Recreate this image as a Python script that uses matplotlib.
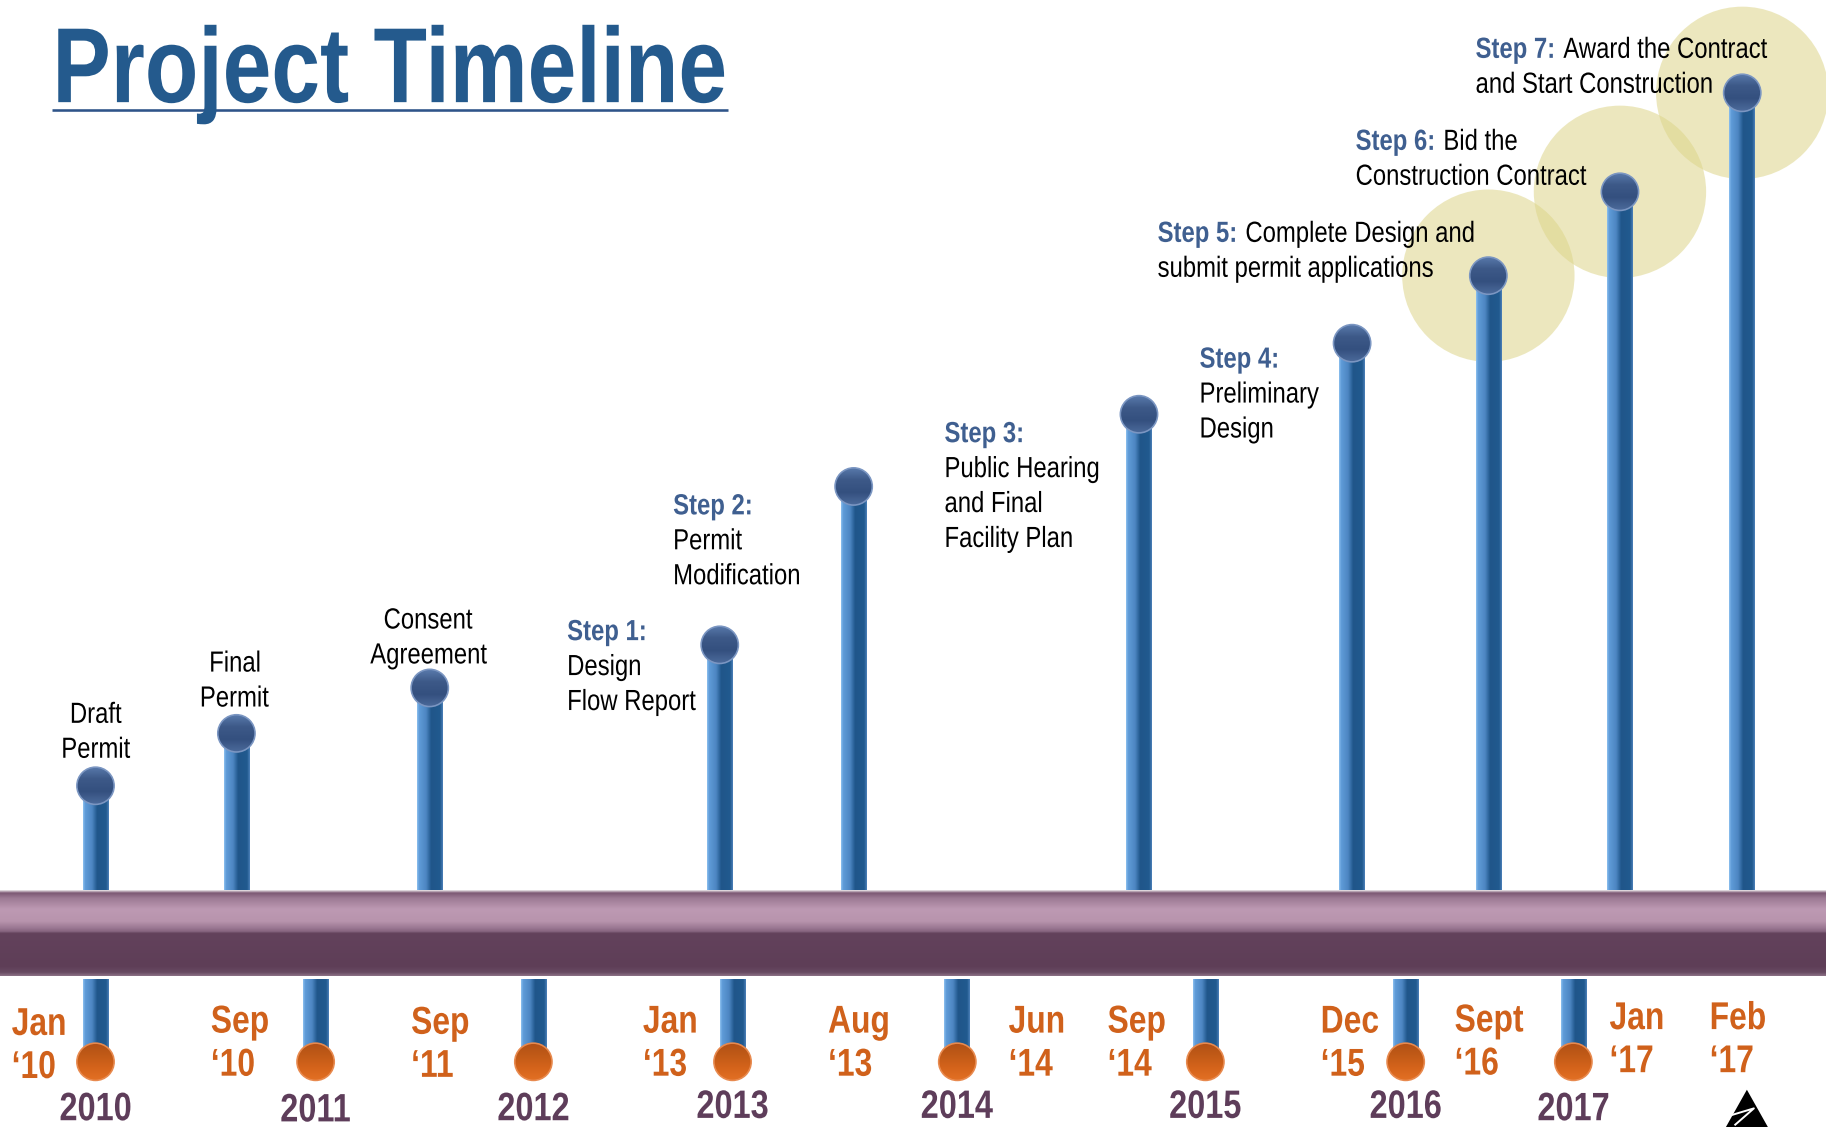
import numpy as np
import matplotlib
matplotlib.use('Agg')
import matplotlib.pyplot as plt
from matplotlib.colors import LinearSegmentedColormap, to_rgb
from matplotlib.patches import Circle, Polygon, PathPatch
from matplotlib.textpath import TextPath
from matplotlib.font_manager import FontProperties
from matplotlib.transforms import Affine2D

# canvas in reference pixels (saved larger by dpi)
W, H = 1568, 968

# milestones above the bar: stem x and height of the ball (screen y)
event_x = [82, 203, 369, 618, 733, 978, 1161, 1278, 1391, 1496]
event_top = [675, 630, 591, 554, 418, 356, 295, 237, 165, 80]
highlight = [7, 8, 9]   # steps 5-7 get the yellow circles

# year pins below the bar
year_labels = ['2010', '2011', '2012', '2013', '2014', '2015', '2016', '2017']
year_x = [82, 271, 458, 629, 822, 1035, 1207, 1351]
year_y = [950, 951, 950, 948, 948, 948, 948, 950]

# orange month labels
date_labels = ['Jan\n\u201810', 'Sep\n\u201810', 'Sep\n\u201811', 'Jan\n\u201813', 'Aug\n\u201813',
               'Jun\n\u201814', 'Sep\n\u201814', 'Dec\n\u201815', 'Sept\n\u201816', 'Jan\n\u201817',
               'Feb\n\u201817']
date_x = [10, 181, 353, 552, 711, 866, 951, 1134, 1249, 1382, 1468]
date_y = [877, 875, 876, 875, 875, 875, 875, 875, 874, 872, 872]

# plain notes (centred)
note_labels = ['Draft\nPermit', 'Final\nPermit', 'Consent\nAgreement']
note_x = [83, 202, 368]
note_y = [612, 568, 531]

# step notes: bold head, rest of first line, further lines
step_heads = ['Step 1:', 'Step 2:', 'Step 3:', 'Step 4:', 'Step 5:', 'Step 6:', 'Step 7:']
step_lines = [
    ['', 'Design', 'Flow Report'],
    ['', 'Permit', 'Modification'],
    ['', 'Public Hearing', 'and Final', 'Facility Plan'],
    ['', 'Preliminary', 'Design'],
    ['Complete Design and', 'submit permit applications'],
    ['Bid the', 'Construction Contract'],
    ['Award the Contract', 'and Start Construction'],
]
step_x = [487, 578, 811, 1030, 994, 1164, 1267]
step_y = [541, 433, 371, 307, 199, 120, 41]

BLUE_T = '#245a8d'
STEP_C = '#3f5f90'
ORANGE = '#d0611b'
PLUM = '#5e3d5a'
PT = 100 / 72      # data units per point
NARROW = 0.82      # Arial Narrow look from Liberation Sans

stem_cmap = LinearSegmentedColormap.from_list('stem', [
    (0, '#8cc0ee'), (0.08, '#5f9bd8'), (0.35, '#4d86c2'), (0.5, '#2a6198'),
    (0.55, '#20568a'), (0.9, '#215a8f'), (1, '#4b7fb8')])
bar_cmap = LinearSegmentedColormap.from_list('bar', [
    (0, '#e6e1e4'), (0.03, '#7c5874'), (0.09, '#9c7a94'), (0.22, '#bd99b3'),
    (0.36, '#b894ad'), (0.44, '#9a7792'), (0.48, '#87647f'), (0.5, '#63425c'),
    (0.89, '#5e3e57'), (0.96, '#684a62'), (1, '#8a6f84')])


def ntext(ax, x, yc, s, size, color, bold=False, ha='left', z=6):
    """narrow text; yc is the visual middle of the line"""
    fp = FontProperties(family='Liberation Sans', weight='bold' if bold else 'normal')
    tp = TextPath((0, 0), s, size=size, prop=fp)
    ext = tp.get_extents()
    dx = 0
    if ha == 'center':
        dx = -(ext.x0 + ext.x1) / 2 * NARROW * PT
    base = yc + 0.358 * size * PT
    tr = Affine2D().scale(NARROW * PT, -PT).translate(x + dx, base) + ax.transData
    ax.add_patch(PathPatch(tp, facecolor=color, edgecolor='none', transform=tr, zorder=z))
    return x + dx + ext.x1 * NARROW * PT


def stem(ax, xc, y0, y1, w=22, z=2):
    g = np.linspace(0, 1, 64).reshape(1, -1)
    ax.imshow(g, cmap=stem_cmap, extent=[xc - w / 2, xc + w / 2, y1, y0],
              aspect='auto', zorder=z, interpolation='bilinear')


def ball(ax, cx, cy, r, cols, rim, z=4):
    n = 64
    t = np.linspace(0, 1, n)
    stops = np.linspace(0, 1, len(cols))
    rgb = np.array([to_rgb(c) for c in cols])
    col = np.stack([np.interp(t, stops, rgb[:, k]) for k in range(3)], axis=1)
    img = np.repeat(col[:, None, :], n, axis=1)
    im = ax.imshow(img, extent=[cx - r, cx + r, cy + r, cy - r], zorder=z,
                   interpolation='bilinear', aspect='auto')
    c = Circle((cx, cy), r, facecolor='none', edgecolor=rim, lw=1, zorder=z + 0.1)
    ax.add_patch(c)
    im.set_clip_path(c)


fig = plt.figure(figsize=(W / 100, H / 100))
ax = fig.add_axes([0, 0, 1, 1])
ax.set_xlim(0, W)
ax.set_ylim(H, 0)
ax.axis('off')

# title
ntext(ax, 45, 88 - 0.358 * 66 * PT, 'Project Timeline', 66, BLUE_T, bold=True, z=5)
ax.plot([45, 625], [95, 95], color='#2f5489', lw=1.6, zorder=4, solid_capstyle='butt')

# yellow circles behind the last three steps
for i in highlight:
    ax.add_patch(Circle((event_x[i], event_top[i]), 74, facecolor='#ddd58a',
                        alpha=0.55, edgecolor='none', zorder=1))

# bar
bar_top, bar_bot = 765, 838
ax.imshow(np.linspace(0, 1, 128).reshape(-1, 1), cmap=bar_cmap,
          extent=[0, W, bar_bot, bar_top], aspect='auto', zorder=3, interpolation='bilinear')

# upper stems and balls
blue_ball = ['#5a7bad', '#3d5988', '#34507f', '#4c6a9b']
for x, top in zip(event_x, event_top):
    stem(ax, x, top, bar_top + 2)
    ball(ax, x, top, 16, blue_ball, '#7b96c2')

# lower stems and orange balls
orange_ball = ['#b04f16', '#c05a17', '#d4631b', '#e27024']
for x in year_x:
    stem(ax, x, 841, 912)
    ball(ax, x, 912, 16, orange_ball, '#e88a4f')

for lab, x, y in zip(year_labels, year_x, year_y):
    ntext(ax, x, y, lab, 24.5, PLUM, bold=True, ha='center')

for lab, x, y in zip(date_labels, date_x, date_y):
    l1, l2 = lab.split('\n')
    ntext(ax, x, y, l1, 24, ORANGE, bold=True)
    ntext(ax, x, y + 37, l2, 24, ORANGE, bold=True)

for lab, x, y in zip(note_labels, note_x, note_y):
    for k, line in enumerate(lab.split('\n')):
        ntext(ax, x, y + 30 * k, line, 18, 'black', ha='center')

for head, lines, x, y in zip(step_heads, step_lines, step_x, step_y):
    xe = ntext(ax, x, y, head, 18, STEP_C, bold=True)
    if lines[0]:
        ntext(ax, xe + 9, y, lines[0], 18, 'black')
    for k, line in enumerate(lines[1:], start=1):
        ntext(ax, x, y + 30 * k, line, 18, 'black')

# small north-arrow mark at the bottom right
ax.add_patch(Polygon([[1500, 936], [1518, 968], [1482, 968]], closed=True,
                     facecolor='black', edgecolor='none', zorder=6))
ax.plot([1486, 1506, 1490], [958, 952, 966], color='white', lw=1.2, zorder=7)

fig.savefig('out.png', dpi=116.46)
